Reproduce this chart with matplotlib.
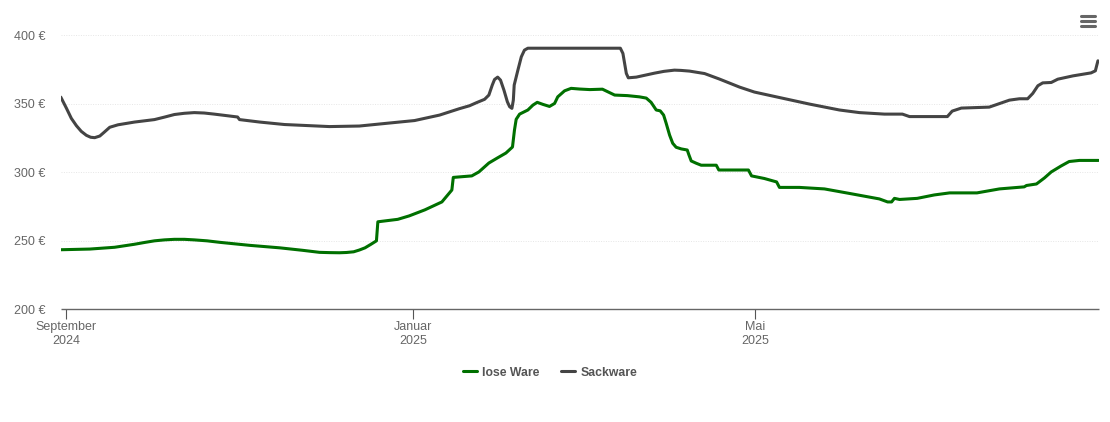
import matplotlib
matplotlib.use("Agg")
import matplotlib.pyplot as plt
from matplotlib.lines import Line2D

# days since 1 September 2024, prices in euro
lose_days = [-2, 8.3, 17, 24, 27.5, 31, 34.5, 38, 41.5, 45, 49.5, 54, 64.5, 75, 83, 89, 92.5, 96, 98.5,
             101, 103, 105, 107, 109, 109.5, 116.5, 120.5, 126, 132, 135.5, 136, 142.5, 145, 148.5,
             151.5, 154.5, 156.8, 157.5, 158.1, 159.3, 162.2, 164, 165.5, 167.5, 169.8, 171.6,
             172.7, 175.1, 177.4, 180.4, 184, 188.4, 192.7, 197.2, 201.4, 203.8, 205.5, 207.3,
             208.7, 209.9, 210.8, 212, 213.1, 214.3, 216.1, 218.2, 218.8, 219.6, 221.4, 223.1,
             228.4, 229.3, 239.7, 240.8, 245.3, 249.6, 250.6, 257.6, 266.4, 275.2, 285.7, 288.6,
             290, 291, 292.8, 299, 305, 310.4, 320, 327.9, 336.6, 337.4, 340.9, 343.7, 346.1,
             349.6, 352.4, 356, 362.7]
lose_price = [243.4, 243.9, 245.2, 247.4, 248.7, 249.9, 250.6, 251, 251, 250.6, 249.9, 248.8, 246.6,
              244.8, 243, 241.5, 241.3, 241.2, 241.4, 241.9, 243.2, 244.8, 247.3, 249.9, 263.8,
              265.6, 268.1, 272.5, 278.3, 287, 296.2, 297.3, 300.2, 306.7, 310.4, 314, 318.4,
              330.8, 338.6, 342.4, 345.4, 349, 351, 349.5, 348, 350.2, 355, 359.4, 361.2, 360.7,
              360.3, 360.6, 356.3, 355.9, 355, 354.1, 351, 345.4, 344.8, 341.7, 335.7, 327.1,
              321.1, 318.2, 317, 316.2, 312.6, 308.2, 306.5, 305.1, 305.1, 301.6, 301.6, 297.3,
              295.4, 292.9, 288.9, 288.9, 287.8, 284.5, 280.5, 278.3, 278.3, 280.9, 280.1, 280.9,
              283.4, 284.9, 284.9, 287.8, 289.3, 290.3, 291.4, 295.8, 300.2, 304.6, 307.8, 308.6,
              308.6]

sack_days = [-1.9, 0.1, 1.8, 3.6, 5.3, 7.1, 8.6, 10, 11.8, 13.3, 15.3, 18.2, 24, 31, 34.5, 38, 41.5,
             45, 48.5, 52, 60.2, 60.9, 68, 76.7, 92.5, 103, 113.6, 122.4, 131.2, 138.2, 141.7,
             144.1, 147, 148.5, 149.7, 150.5, 151.6, 152.6, 153.8, 155, 155.8, 156.6, 157.1, 157.4,
             158.7, 159.9, 161, 162.2, 194.7, 195.6, 196.8, 197.5, 200.3, 206.7, 210, 213.7, 216,
             219, 224.3, 229.5, 236.6, 241.8, 250.6, 261.2, 271.7, 278.7, 287.5, 293.8, 296.3,
             309.6, 311.3, 314.5, 324.3, 331.4, 334.9, 337.8, 339.6, 341.4, 343.1, 346.1, 348.4,
             353.7, 360.1, 361.6, 362.1, 362.5]
sack_price = [354.8, 346.6, 339.3, 333.9, 329.8, 326.9, 325.5, 325.2, 326.4, 329.1, 332.8, 334.6,
              336.6, 338.4, 340.2, 342.1, 343, 343.5, 343.2, 342.4, 340.3, 338.4, 336.6, 334.8,
              333.3, 333.7, 335.9, 337.7, 341.7, 346.4, 348.5, 350.7, 353.2, 356.3, 363.6, 367.7,
              369.4, 367.2, 359.9, 351.4, 347.8, 346.6, 352.6, 363.6, 374.5, 384.2, 389.1, 390.5,
              390.5, 386.7, 372.1, 368.9, 369.4, 372.3, 373.6, 374.5, 374.3, 373.8, 372, 368, 362.1,
              358.5, 354.5, 349.7, 345.4, 343.5, 342.4, 342.4, 340.6, 340.6, 344.6, 346.8, 347.5,
              352.6, 353.6, 353.6, 357.5, 363.1, 365.2, 365.5, 367.9, 370.3, 372.5, 374, 378.1,
              381.3]

month_days = [0, 122, 242]
month_labels = ["September\n2024", "Januar\n2025", "Mai\n2025"]
price_ticks = [200, 250, 300, 350, 400]

W, H = 1110, 422
plt.rcParams["font.family"] = ["Liberation Sans", "DejaVu Sans"]

fig = plt.figure(figsize=(W / 100, H / 100), dpi=100)
ax = fig.add_axes([61 / W, 1 - 309.2 / H, (1098.5 - 61) / W, (309.2 - 35.2) / H])

ax.plot(lose_days, lose_price, color="#007000", lw=2.2, label="lose Ware",
        solid_joinstyle="round", solid_capstyle="round")
ax.plot(sack_days, sack_price, color="#444444", lw=2.2, label="Sackware",
        solid_joinstyle="round", solid_capstyle="round")

ax.set_xlim(-1.83, 362.7)
ax.set_ylim(200, 400)
ax.set_xticks(month_days)
ax.set_xticklabels(month_labels, linespacing=1.25)
ax.set_yticks(price_ticks)
ax.set_yticklabels([f"{p} €" for p in price_ticks])
ax.tick_params(axis="x", length=7.5, width=0.8, color="#555555", labelcolor="#666666",
               labelsize=9, pad=1)
ax.tick_params(axis="y", length=0, labelcolor="#666666", labelsize=9, pad=11)
ax.grid(axis="y", color="#e6e6e6", lw=0.7, ls=(0, (1, 1.5)))
ax.set_axisbelow(True)

for side in ["top", "right", "left"]:
    ax.spines[side].set_visible(False)
ax.spines["bottom"].set_color("#666666")
ax.spines["bottom"].set_linewidth(1.0)
ax.spines["bottom"].set_capstyle("butt")

leg = fig.legend(loc="center", bbox_to_anchor=(550 / W, 1 - 372.5 / H), ncol=2, frameon=False,
                 handlelength=1.15, handletextpad=0.45, columnspacing=1.75,
                 prop={"size": 8.85, "weight": "bold"}, labelcolor="#555555")

# menu icon, top right
for y in [16, 21, 26]:
    fig.add_artist(Line2D([1081 / W, 1095 / W], [1 - y / H, 1 - y / H], color="#666666", lw=2.2,
                          solid_capstyle="round"))

fig.savefig("out.png", dpi=100)
